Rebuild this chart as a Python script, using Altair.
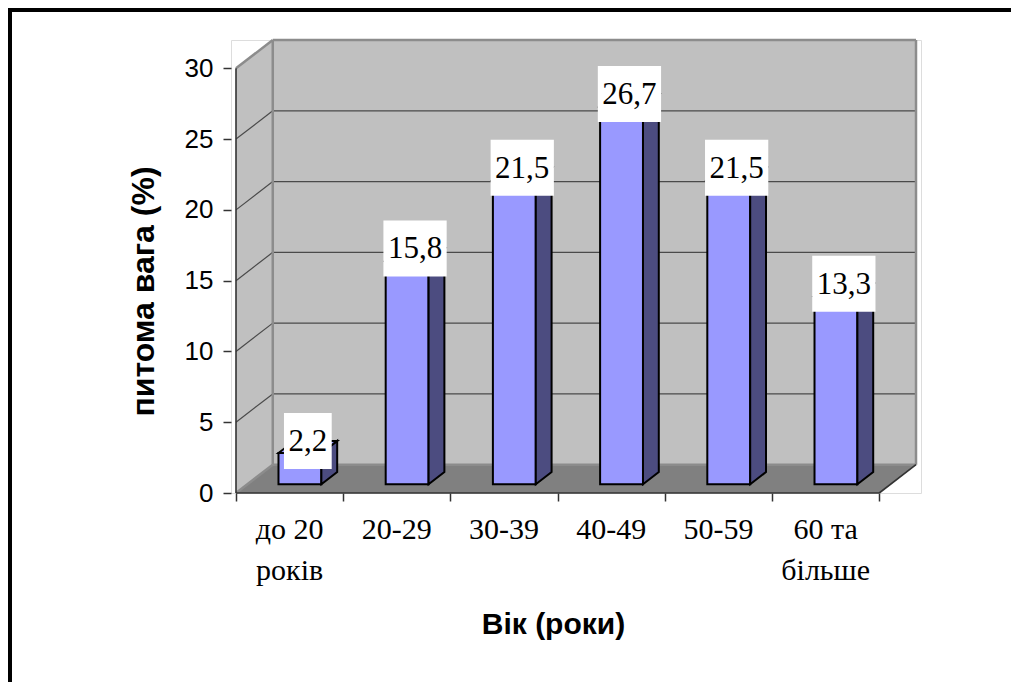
import altair as alt
import pandas as pd

# ---------------- data ----------------
categories = ["до 20\nроків", "20-29", "30-39", "40-49", "50-59", "60 та\nбільше"]
values = [2.2, 15.8, 21.5, 26.7, 21.5, 13.3]
value_labels = ["2,2", "15,8", "21,5", "26,7", "21,5", "13,3"]
y_ticks = [0, 5, 10, 15, 20, 25, 30]
y_title = "питома вага (%)"
x_title = "Вік (роки)"

# ---------------- geometry / style ----------------
W, H = 690, 453
N = len(categories)
DX = 0.343          # depth of the 3D box, in category units
DY = 2.0            # depth of the 3D box, in value units
X_MAX = N + DX
Y_MAX = max(y_ticks) + DY
PX_Y = H / Y_MAX
D_FRONT, D_BACK = 0.31, 0.74
BAR_L, BAR_R = 0.29, 0.69
LABEL_FS = 31
CAT_FS = 30
SERIF = "'Liberation Serif', 'Times New Roman', Times, serif"
SANS = "'Liberation Sans', Arial, Helvetica, sans-serif"

FRONT = "#9999FF"
SIDE = "#4C4C80"
WALL = "#C0C0C0"
FLOOR = "#808080"
EDGE = "#8C8C8C"

xs = alt.Scale(domain=[0, X_MAX], nice=False, zero=False)
ys = alt.Scale(domain=[0, Y_MAX], nice=False, zero=False)


def X(f, **kw):
    return alt.X(f, type="quantitative", scale=xs, **kw)


def Y(f, **kw):
    return alt.Y(f, type="quantitative", scale=ys, **kw)


# ---------------- walls ----------------
back = pd.DataFrame({"x": [DX], "x2": [X_MAX], "y": [DY], "y2": [Y_MAX]})
back_wall = alt.Chart(back).mark_rect(fill=WALL).encode(
    x=X("x", axis=alt.Axis(values=list(range(N + 1)), labels=False, domain=False, grid=False,
                           tickSize=8, tickColor="#333333", tickWidth=1.5,
                           title=x_title, titleFont=SANS, titleFontSize=30,
                           titleFontWeight="bold", titleColor="black",
                           titleX=322, titleY=140, titleAlign="center",
                           titleBaseline="alphabetic")),
    x2="x2",
    y=Y("y", axis=alt.Axis(values=y_ticks, domain=False, grid=False, tickSize=8,
                           tickColor="#333333", tickWidth=1.5,
                           labelFont=SANS, labelFontSize=26, labelColor="black",
                           labelPadding=10,
                           title=y_title, titleFont=SANS, titleFontSize=32,
                           titleFontWeight="bold", titleColor="black",
                           titleX=-88, titleY=251, titleAngle=-90,
                           titleAlign="center", titleBaseline="middle")),
    y2="y2",
)

side = pd.DataFrame({"x": [0, DX], "top": [max(y_ticks), Y_MAX], "bot": [0, DY]})
side_wall = alt.Chart(side).mark_area(fill=WALL, strokeWidth=0).encode(
    x=X("x"), y=Y("top"), y2="bot"
)

floor = pd.DataFrame({"x": [0, DX, N, X_MAX], "top": [0, DY, DY, DY], "bot": [0, 0, 0, DY]})
floor_area = alt.Chart(floor).mark_area(fill=FLOOR, strokeWidth=0).encode(
    x=X("x"), y=Y("top"), y2="bot"
)

# gridlines: horizontal on the back wall and diagonal on the side wall
grid_rows = []
for v in y_ticks[1:-1]:
    grid_rows.append({"x": DX, "x2": X_MAX, "y": v + DY, "y2": v + DY})
    grid_rows.append({"x": 0, "x2": DX, "y": v, "y2": v + DY})
grid = alt.Chart(pd.DataFrame(grid_rows)).mark_rule(color="#4a4a4a", strokeWidth=1.2).encode(
    x=X("x"), x2="x2", y=Y("y"), y2="y2"
)

edge_rows = [
    {"x": DX, "x2": DX, "y": DY, "y2": Y_MAX},
    {"x": DX, "x2": X_MAX, "y": Y_MAX, "y2": Y_MAX},
    {"x": X_MAX, "x2": X_MAX, "y": DY, "y2": Y_MAX},
    {"x": 0, "x2": DX, "y": max(y_ticks), "y2": Y_MAX},
    {"x": 0, "x2": DX, "y": 0, "y2": DY},
    {"x": DX, "x2": X_MAX, "y": DY, "y2": DY},
]
edges = alt.Chart(pd.DataFrame(edge_rows)).mark_rule(color=EDGE, strokeWidth=2.5).encode(
    x=X("x"), x2="x2", y=Y("y"), y2="y2"
)

axis_rows = [
    {"x": 0, "x2": 0, "y": 0, "y2": max(y_ticks)},
    {"x": 0, "x2": N, "y": 0, "y2": 0},
    {"x": N, "x2": X_MAX, "y": 0, "y2": DY},
]
axis_lines = alt.Chart(pd.DataFrame(axis_rows)).mark_rule(color="#333333", strokeWidth=1.6).encode(
    x=X("x"), x2="x2", y=Y("y"), y2="y2"
)

# ---------------- bars ----------------
front_rows, side_rows, top_rows, lab_rows = [], [], [], []
dxd = (D_BACK - D_FRONT) * DX
for i, v in enumerate(values):
    xl = i + BAR_L + D_FRONT * DX
    xr = i + BAR_R + D_FRONT * DX
    yb = D_FRONT * DY
    yF = v + D_FRONT * DY
    yB = v + D_BACK * DY
    front_rows.append({"x": xl, "x2": xr, "y": yb, "y2": yF})
    side_rows += [
        {"g": i, "x": xr, "y": yF, "y2": yb},
        {"g": i, "x": xr + dxd, "y": yB, "y2": D_BACK * DY},
    ]
    top_rows += [
        {"g": i, "x": xl, "y": yF, "y2": yF},
        {"g": i, "x": xl + dxd, "y": yB, "y2": yF},
        {"g": i, "x": xr, "y": yB, "y2": yF},
        {"g": i, "x": xr + dxd, "y": yB, "y2": yB},
    ]
    txt = value_labels[i]
    ndig = sum(c.isdigit() for c in txt)
    box_w = (0.5 * ndig + 0.25) * LABEL_FS + 9
    hh = 28 / PX_Y
    cx = i + (BAR_L + BAR_R) / 2 + (D_FRONT + D_BACK) / 2 * DX
    lab_rows.append({"x": cx, "y": yB, "lo": yB - hh, "hi": yB + hh, "w": box_w, "t": txt})

bar_front = alt.Chart(pd.DataFrame(front_rows)).mark_rect(
    fill=FRONT, stroke="black", strokeWidth=2).encode(x=X("x"), x2="x2", y=Y("y"), y2="y2")
bar_side = alt.Chart(pd.DataFrame(side_rows)).mark_area(
    fill=SIDE, stroke="black", strokeWidth=2, opacity=1).encode(
    x=X("x"), y=Y("y"), y2="y2", detail="g:N")
bar_top = alt.Chart(pd.DataFrame(top_rows)).mark_area(
    fill=FRONT, stroke="black", strokeWidth=2, opacity=1).encode(
    x=X("x"), y=Y("y"), y2="y2", detail="g:N")

labs = pd.DataFrame(lab_rows)
boxes = alt.Chart(labs).mark_bar(fill="white", strokeWidth=0, opacity=1).encode(
    x=X("x"), y=Y("lo"), y2="hi", size=alt.Size("w:Q", scale=None, legend=None))
texts = alt.Chart(labs).mark_text(
    font=SERIF, fontSize=LABEL_FS, color="black", baseline="middle", dy=1).encode(
    x=X("x"), y=Y("y"), text="t:N")

cat_df = pd.DataFrame({"x": [i + 0.5 for i in range(N)], "y": [0] * N, "t": categories})
cat_text = alt.Chart(cat_df).mark_text(
    font=SERIF, fontSize=CAT_FS, color="black", baseline="alphabetic",
    align="center", dy=46, lineBreak="\n", lineHeight=41).encode(
    x=X("x"), y=Y("y"), text="t:N")

# ---------------- outer frame (top and left edges) ----------------
frame_df = pd.DataFrame({"k": [0]})
frame_left = alt.Chart(frame_df).mark_rule(color="black", strokeWidth=4).encode(
    x=alt.value(-221), x2=alt.value(-221), y=alt.value(-40), y2=alt.value(700))
frame_top = alt.Chart(frame_df).mark_rule(color="black", strokeWidth=4).encode(
    x=alt.value(-223), x2=alt.value(900), y=alt.value(-30), y2=alt.value(-30))

chart = alt.layer(
    back_wall, side_wall, floor_area, grid, edges, axis_lines,
    bar_front, bar_side, bar_top, boxes, texts, cat_text, frame_left, frame_top
).properties(
    width=W, height=H,
    autosize=alt.AutoSizeParams(type="none"),
    padding={"left": 223, "top": 32, "right": 90, "bottom": 189},
).configure_view(strokeWidth=0).configure(background="white")

chart.save("out.html", embed_options={"renderer": "svg", "actions": False})
